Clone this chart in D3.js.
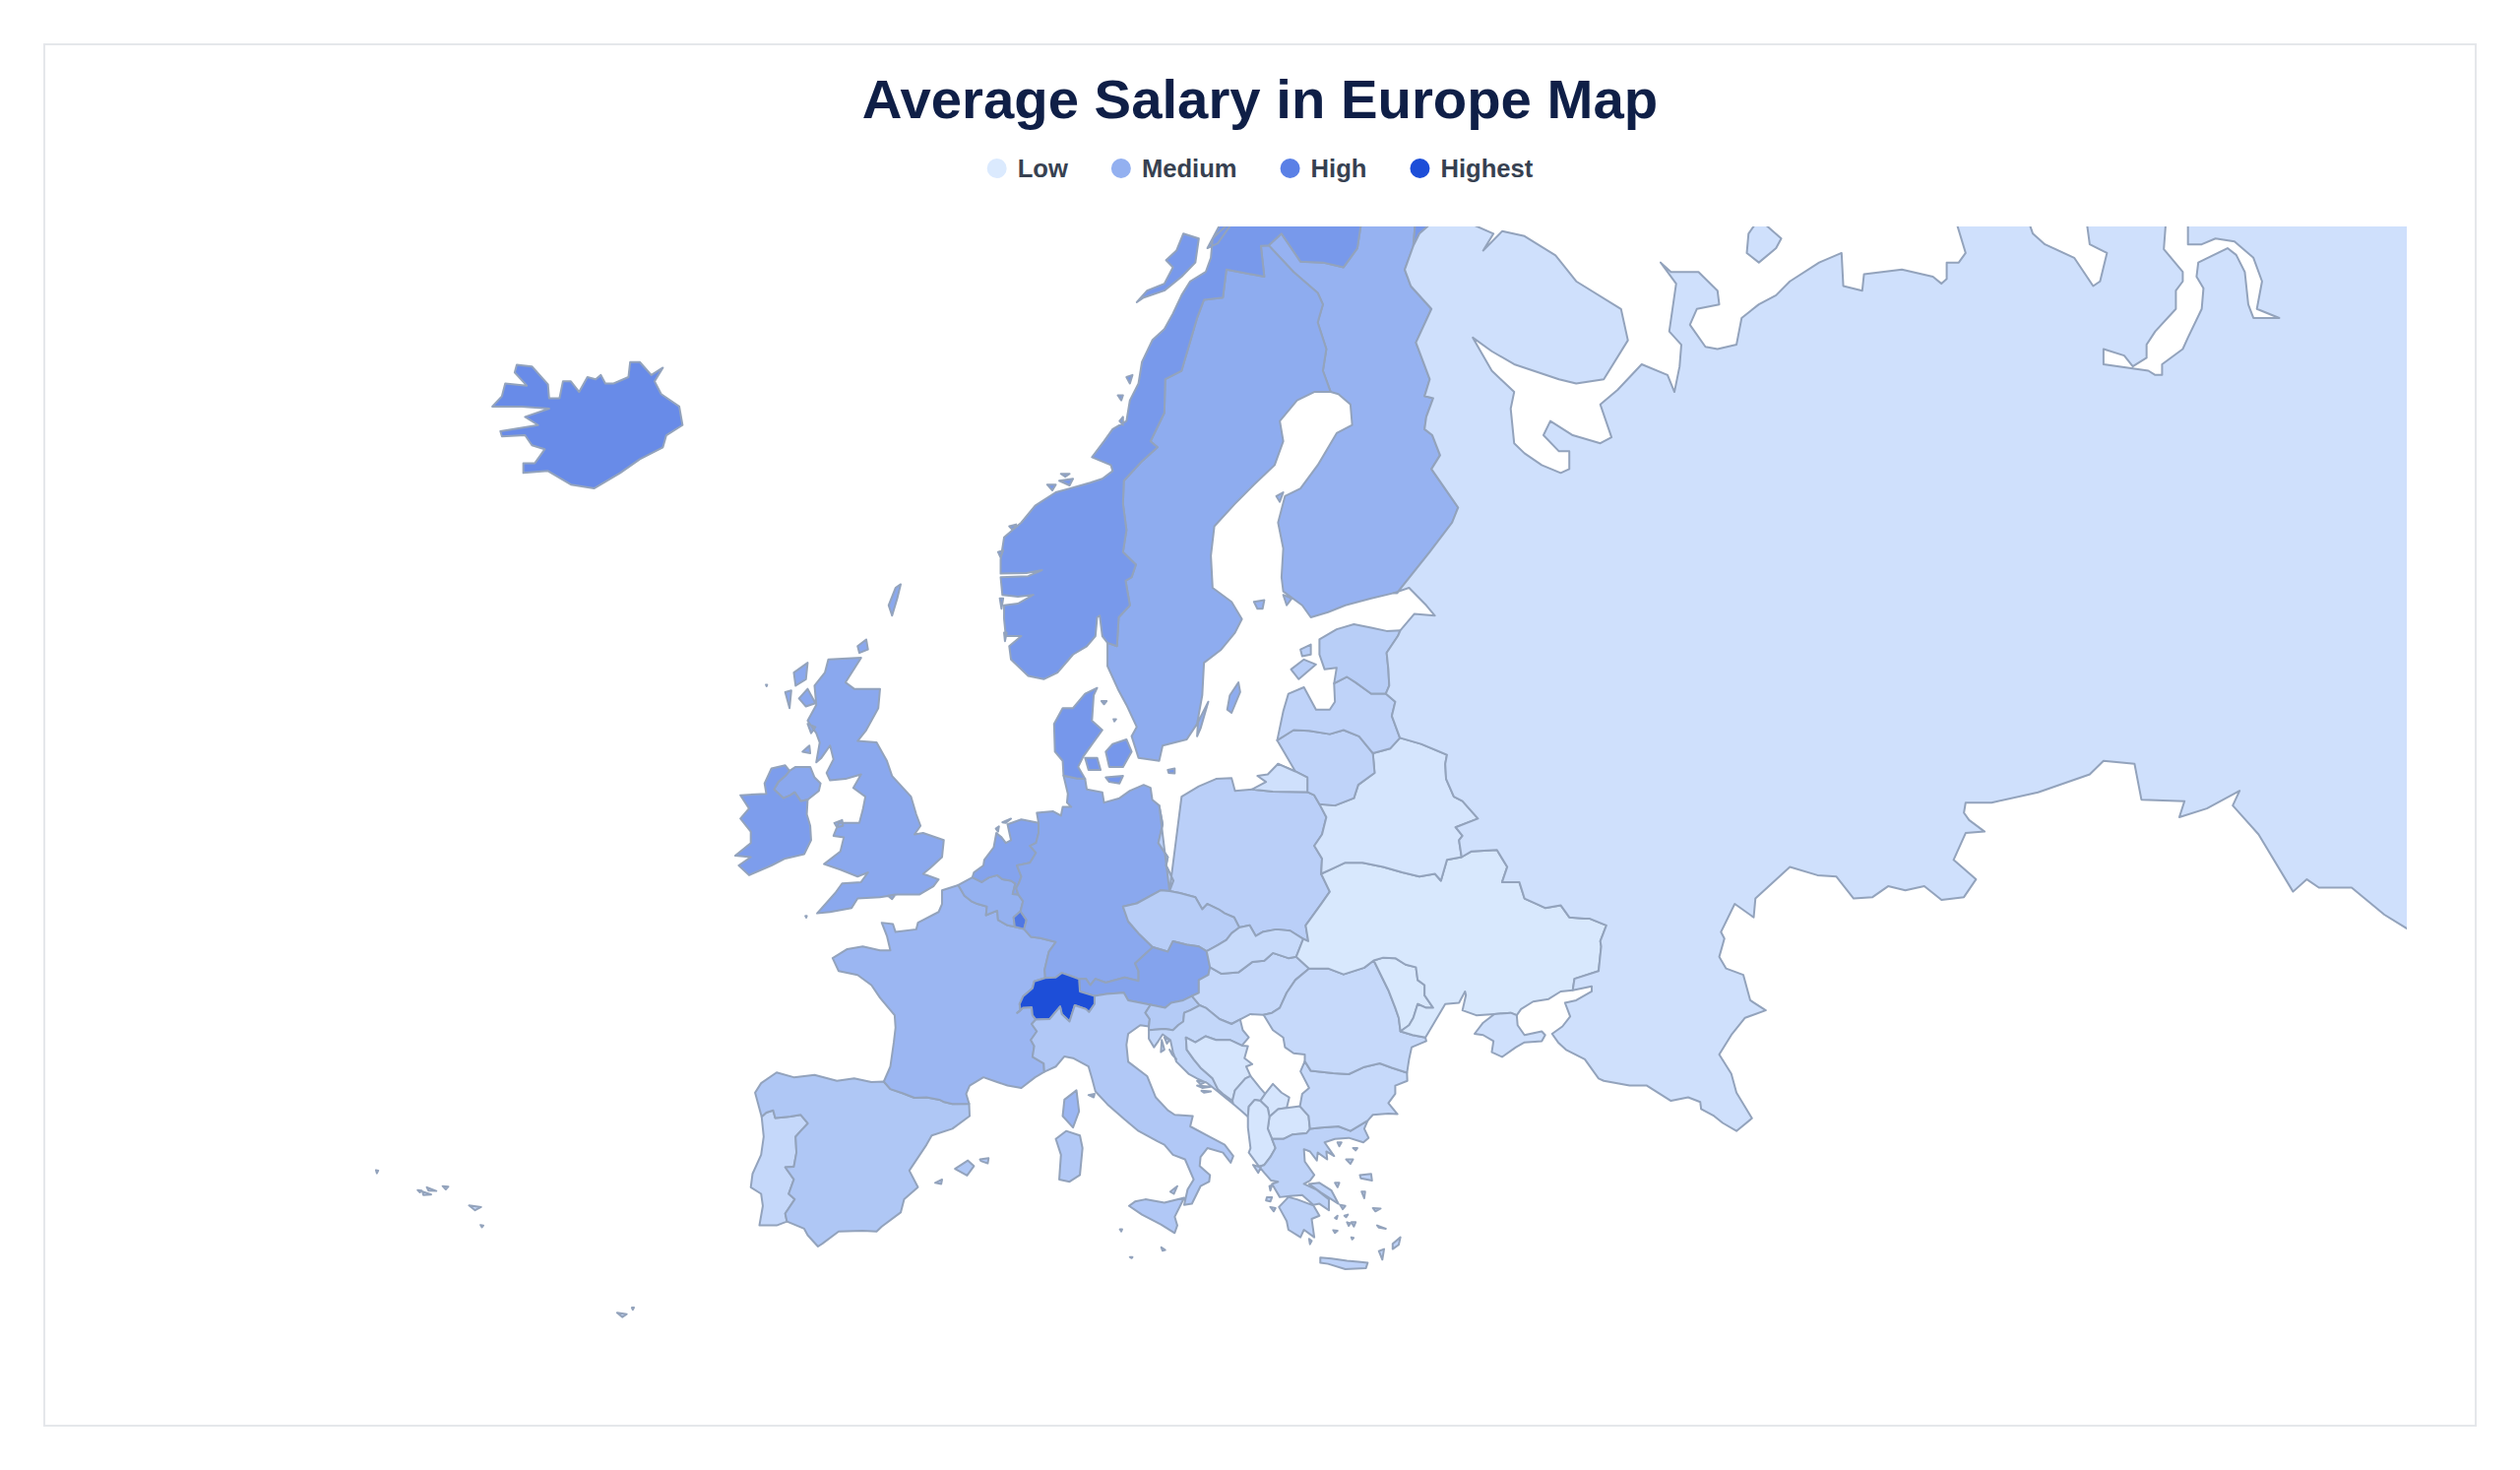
<!DOCTYPE html>
<html>
<head>
<meta charset="utf-8">
<title>Average Salary in Europe Map</title>
<script src="https://cdn.jsdelivr.net/npm/d3@7"></script>
<style>
  body { margin: 0; background: #fff; }
  text { font-family: "Liberation Sans", Arial, sans-serif; font-weight: 700; }
  .country { stroke: #93a3bc; stroke-width: 2; stroke-linejoin: round; }
</style>
</head>
<body>
<svg class="chart"></svg>
<script>
const width = 2560, height = 1493;

// Values
const legendLabels = ["Low", "Medium", "High", "Highest"];
const legendSalaries = [500, 2600, 4700, 6500];
const legendColors = ["#dbeafe", "#93b0f0", "#5a80e6", "#1d4ed8"];

const countries = ["Portugal","Spain","France","Belgium","Luxembourg","Netherlands","Germany","Denmark","Poland","Czechia","Austria","Switzerland","Italy","Slovenia","Hungary","Slovakia","Croatia","Bosnia and Herzegovina","Montenegro","Kosovo","North Macedonia","Albania","Greece","Bulgaria","Romania","Moldova","Ukraine","Belarus","Lithuania","Latvia","Estonia","Finland","Sweden","Norway","United Kingdom","Ireland","Iceland","Malta","Russia"];
const salaries = [1140,1780,2370,2570,5025,3150,2930,3680,1460,1550,3150,6500,1725,1640,1140,1080,1200,675,820,675,675,675,1375,1110,1110,590,590,675,1320,1320,1520,2510,2770,3595,2930,3410,4200,1500,850];

// Shared land borders, lon/lat
const ptEs = [[-8.87,41.87],[-8.6,42.05],[-8.2,42.14],[-8.08,41.81],[-7.6,41.85],[-7.2,41.88],[-6.6,41.95],[-6.19,41.58],[-6.6,41.25],[-6.9,41.0],[-6.85,40.3],[-7.0,39.67],[-7.5,39.65],[-7.0,39.1],[-7.3,38.45],[-6.95,38.2],[-7.5,37.55],[-7.4,37.18]];
const esFr = [[-1.78,43.37],[-1.4,43.05],[-0.7,42.88],[0.0,42.68],[0.7,42.7],[1.45,42.6],[1.73,42.5],[2.2,42.42],[3.17,42.43]];
const frBe = [[2.54,51.09],[2.9,50.7],[3.3,50.5],[3.65,50.4],[4.2,50.3],[4.15,49.98],[4.8,50.15],[4.85,49.8],[5.4,49.6],[5.82,49.55]];
const frLu = [[5.82,49.55],[6.36,49.46]];
const frDe = [[6.36,49.46],[6.75,49.17],[7.3,49.12],[8.2,48.97],[7.8,48.6],[7.55,47.9],[7.59,47.58]];
const frCh = [[7.59,47.58],[6.95,47.45],[6.85,47.18],[6.3,46.85],[6.1,46.55],[6.15,46.3],[5.96,46.2],[6.3,46.4],[6.8,46.42],[6.85,46.1],[7.04,45.93]];
const frIt = [[7.04,45.93],[6.8,45.75],[7.1,45.45],[6.75,45.1],[6.95,44.85],[6.85,44.4],[7.5,44.13],[7.53,43.78]];
const beNl = [[3.36,51.37],[3.9,51.2],[4.3,51.36],[4.8,51.45],[5.1,51.3],[5.6,51.25],[5.85,51.15],[5.7,50.76],[6.02,50.75]];
const beDe = [[6.02,50.75],[6.3,50.5],[6.15,50.13]];
const beLu = [[6.15,50.13],[5.75,49.9],[5.82,49.55]];
const luDe = [[6.36,49.46],[6.5,49.8],[6.15,50.13]];
const nlDe = [[7.2,53.3],[7.2,52.95],[7.05,52.6],[6.7,52.5],[7.05,52.25],[6.7,51.9],[5.95,51.8],[6.2,51.4],[6.05,51.15],[5.9,50.98],[6.02,50.75]];
const deCh = [[7.59,47.58],[8.2,47.6],[8.55,47.78],[9.0,47.68],[9.55,47.54]];
const deAt = [[9.55,47.54],[9.95,47.55],[10.2,47.3],[10.5,47.55],[11.1,47.4],[12.2,47.6],[13.0,47.47],[13.0,47.85],[12.8,48.15],[13.45,48.55],[13.83,48.77]];
const deCz = [[13.83,48.77],[13.0,49.3],[12.4,49.75],[12.1,50.3],[12.9,50.42],[14.3,50.9],[14.8,50.87]];
const dePl = [[14.8,50.87],[15.03,51.25],[14.6,51.8],[14.7,52.1],[14.15,52.6],[14.4,53.25],[14.2,53.9]];
const deDk = [[9.9,54.8],[9.4,54.82],[8.65,54.91]];
const plRu = [[19.6,54.45],[20.8,54.37],[22.8,54.36]];
const plLt = [[22.8,54.36],[23.2,54.25],[23.5,53.95]];
const plBy = [[23.5,53.95],[23.9,53.5],[23.65,52.9],[23.2,52.5],[23.65,52.05],[23.6,51.5]];
const plUa = [[23.6,51.5],[24.1,50.85],[23.6,50.4],[22.7,49.6],[22.85,49.0],[22.56,49.09]];
const plSk = [[22.56,49.09],[21.8,49.4],[21.0,49.45],[20.2,49.35],[19.8,49.2],[19.45,49.6],[18.85,49.52]];
const plCz = [[18.85,49.52],[18.55,49.9],[18.0,50.05],[17.65,50.2],[17.0,50.4],[16.7,50.2],[16.3,50.65],[15.4,50.8],[14.8,50.87]];
const czSk = [[18.85,49.52],[18.4,49.3],[18.1,49.05],[17.6,48.85],[16.95,48.62]];
const czAt = [[16.95,48.62],[16.5,48.8],[15.8,48.87],[15.0,49.0],[14.7,48.6],[13.83,48.77]];
const atSk = [[16.95,48.62],[17.15,48.0]];
const atHu = [[17.15,48.0],[17.05,47.7],[16.5,47.5],[16.5,47.0],[16.1,46.87]];
const atSi = [[16.1,46.87],[15.6,46.7],[14.9,46.6],[14.55,46.4],[13.7,46.52]];
const atIt = [[13.7,46.52],[12.4,46.7],[12.15,47.0],[11.15,46.95],[10.45,46.87]];
const atCh = [[10.45,46.87],[9.6,47.05],[9.55,47.54]];
const chIt = [[10.45,46.87],[10.45,46.55],[10.13,46.23],[9.95,46.35],[9.3,46.5],[9.0,45.85],[8.55,46.15],[8.45,46.45],[7.85,45.95],[7.04,45.93]];
const itSi = [[13.7,46.52],[13.4,46.2],[13.65,45.95],[13.6,45.65]];
const siHu = [[16.1,46.87],[16.55,46.5]];
const siHr = [[16.55,46.5],[16.0,46.3],[15.65,46.2],[15.6,45.85],[15.3,45.7],[15.0,45.5],[14.5,45.55],[13.6,45.5]];
const huSk = [[17.15,48.0],[17.8,47.75],[18.8,47.8],[19.6,48.2],[20.3,48.25],[20.8,48.55],[21.7,48.35],[22.15,48.4]];
const huUa = [[22.15,48.4],[22.9,47.95]];
const huRo = [[22.9,47.95],[22.1,47.5],[21.6,47.0],[21.2,46.4],[20.75,46.2],[20.26,46.12]];
const huRs = [[20.26,46.12],[19.5,46.15],[18.9,45.93]];
const huHr = [[18.9,45.93],[18.4,45.75],[17.7,45.95],[16.9,46.4],[16.55,46.5]];
const skUa = [[22.56,49.09],[22.15,48.4]];
const hrRs = [[18.9,45.93],[19.05,45.5],[19.4,45.2],[19.0,44.87]];
const hrBa = [[19.0,44.87],[18.3,45.1],[17.5,45.1],[16.9,45.25],[16.3,45.0],[15.75,45.2],[15.8,44.7],[16.2,44.3],[16.6,43.95],[17.3,43.5],[17.6,43.05],[17.9,42.85],[18.45,42.55]];
const baMe = [[18.45,42.55],[18.6,43.0],[19.2,43.5],[19.5,43.6]];
const baRs = [[19.5,43.6],[19.25,44.0],[19.6,44.1],[19.15,44.35],[19.35,44.85],[19.0,44.87]];
const meAl = [[19.35,41.87],[19.4,42.3],[19.75,42.6],[20.07,42.55]];
const meXk = [[20.07,42.55],[20.35,42.85]];
const meRs = [[20.35,42.85],[20.05,43.1],[19.5,43.6]];
const xkAl = [[20.07,42.55],[20.5,42.25],[20.6,41.87]];
const xkMk = [[20.6,41.87],[21.1,42.2],[21.6,42.25]];
const xkRs = [[21.6,42.25],[21.75,42.7],[21.3,42.9],[20.8,43.27],[20.35,42.85]];
const mkAl = [[20.6,41.87],[20.5,41.35],[20.75,40.9]];
const mkGr = [[20.75,40.9],[21.4,40.9],[21.95,41.1],[22.75,41.15],[22.95,41.34]];
const mkBg = [[22.95,41.34],[22.87,41.9],[22.37,42.32]];
const mkRs = [[22.37,42.32],[21.6,42.25]];
const alGr = [[20.75,40.9],[20.95,40.5],[20.65,40.1],[20.3,39.75],[20.0,39.68]];
const grBg = [[22.95,41.34],[23.6,41.4],[24.6,41.45],[25.3,41.25],[26.3,41.7]];
const grTr = [[26.3,41.7],[26.1,41.35],[26.35,40.95],[26.05,40.75]];
const bgTr = [[26.3,41.7],[26.6,41.95],[27.5,42.0],[28.03,41.98]];
const bgRo = [[28.58,43.74],[27.7,43.95],[27.0,44.13],[26.1,43.98],[25.2,43.68],[24.3,43.72],[23.0,43.82],[22.65,44.22]];
const bgRs = [[22.65,44.22],[22.4,43.8],[22.9,43.1],[22.5,42.85],[22.37,42.32]];
const roUaS = [[29.65,45.2],[28.9,45.3],[28.2,45.45]];
const roMd = [[28.2,45.45],[28.1,46.0],[27.9,46.4],[27.5,47.1],[26.65,48.26]];
const roUaN = [[26.65,48.26],[26.1,47.98],[24.9,47.72],[24.0,47.95],[22.9,47.95]];
const roRs = [[20.26,46.12],[20.8,45.5],[21.4,45.2],[21.5,44.8],[22.0,44.55],[22.65,44.5],[22.65,44.22]];
const mdUa = [[26.65,48.26],[27.2,48.37],[27.9,48.35],[28.5,48.1],[29.1,48.0],[29.2,47.5],[29.6,47.3],[29.6,46.9],[30.1,46.4],[29.7,46.4],[29.2,46.55],[28.95,46.0],[28.7,45.7],[28.2,45.45]];
const uaBy = [[23.6,51.5],[24.3,51.7],[25.0,51.9],[26.0,51.9],[27.2,51.75],[28.3,51.55],[29.3,51.4],[30.2,51.5],[30.55,51.25],[30.9,52.0],[31.75,52.1]];
const uaRu = [[31.75,52.1],[32.3,52.3],[33.8,52.35],[34.4,51.75],[34.1,51.2],[35.1,51.2],[35.4,50.6],[36.1,50.4],[36.6,50.25],[37.5,50.35],[38.0,49.9],[38.9,49.85],[39.2,49.85],[40.15,49.6],[39.8,49.0],[39.85,48.8],[39.7,47.85],[38.3,47.55],[38.2,47.1]];
const byLt = [[23.5,53.95],[24.4,53.9],[25.5,54.15],[25.75,54.6],[26.7,55.0],[26.6,55.65]];
const byLv = [[26.6,55.65],[27.6,55.8],[28.17,56.15]];
const byRu = [[28.17,56.15],[29.4,55.95],[30.9,55.6],[30.8,55.3],[30.85,54.8],[31.3,54.2],[31.8,54.05],[32.7,53.45],[31.4,53.15],[31.8,52.85],[31.6,52.7],[31.75,52.1]];
const ltLv = [[26.6,55.65],[25.8,56.2],[24.9,56.4],[24.1,56.27],[22.9,56.38],[22.0,56.4],[21.05,56.07]];
const ltRu = [[21.1,55.3],[22.1,55.05],[22.8,54.85],[22.8,54.36]];
const lvRu = [[28.17,56.15],[27.7,56.85],[27.9,57.3],[27.35,57.55]];
const lvEe = [[27.35,57.55],[26.5,57.55],[25.6,57.9],[25.1,58.07],[24.35,57.87]];
const eeRu = [[27.35,57.55],[27.55,57.8],[27.5,58.3],[27.4,58.8],[28.05,59.3],[28.2,59.47]];
const fiSe = [[24.15,65.8],[23.7,66.3],[23.9,66.8],[23.4,67.4],[23.7,67.8],[23.4,68.05],[22.0,68.5],[20.55,69.06]];
const fiNo = [[20.55,69.06],[21.3,69.3],[22.4,68.72],[23.7,68.7],[24.9,68.6],[25.7,69.0],[26.0,69.7],[27.3,70.09],[28.2,70.1],[29.1,69.7],[28.95,69.05]];
const fiRu = [[28.95,69.05],[28.45,68.55],[28.8,68.2],[30.0,67.7],[29.1,66.95],[29.9,66.1],[29.6,65.7],[30.1,65.65],[29.7,65.2],[29.6,64.9],[30.05,64.75],[30.5,64.25],[30.0,63.9],[31.55,62.9],[31.2,62.5],[29.9,61.7],[28.0,60.55],[27.8,60.55]];
const seNo = [[20.55,69.06],[20.1,69.05],[20.3,68.4],[18.1,68.55],[17.9,67.95],[16.8,67.9],[16.4,67.5],[15.5,66.3],[14.55,66.1],[14.5,65.3],[13.7,64.6],[14.1,64.45],[13.2,64.1],[12.15,63.6],[12.1,63.0],[12.3,62.3],[12.1,61.7],[12.85,61.35],[12.6,61.0],[12.25,60.9],[12.5,60.2],[11.85,59.85],[11.75,59.0],[11.2,59.1]];
const noRu = [[28.95,69.05],[29.3,69.3],[30.85,69.78]];
const ieGb = [[-7.25,55.07],[-7.5,54.9],[-7.9,54.7],[-8.15,54.45],[-7.6,54.15],[-7.2,54.25],[-6.95,54.35],[-6.6,54.05],[-6.2,54.1]];

const rev = a => a.slice().reverse();
const join = (...parts) => parts.flat();

// Outlines per country, built from the borders above and the coasts
const shapePortugal = [
  join(ptEs, [[-8.0,37.0],[-9.0,37.0],[-8.8,37.9],[-8.9,38.45],[-9.5,38.75],[-9.4,39.35],[-8.9,40.2],[-8.75,41.0]]),
  [[-31.25,39.52],[-31.12,39.5],[-31.2,39.38]], [[-28.83,38.62],[-28.6,38.6],[-28.7,38.52]], [[-28.55,38.55],[-28.05,38.42],[-28.5,38.4]], [[-28.3,38.75],[-27.75,38.58],[-28.2,38.6]],
  [[-27.38,38.8],[-27.05,38.78],[-27.2,38.65]], [[-25.85,37.92],[-25.15,37.85],[-25.5,37.7]], [[-25.18,37.02],[-25.02,37.0],[-25.1,36.92]],
  [[-17.26,32.85],[-16.7,32.78],[-16.95,32.64]], [[-16.4,33.1],[-16.28,33.1],[-16.35,33.0]]
];
const shapeSpain = [
  join(ptEs, [[-6.4,36.85],[-6.2,36.55],[-5.6,36.02],[-5.35,36.15],[-4.4,36.72],[-3.0,36.75],[-2.2,36.72],[-1.9,36.95],[-0.8,37.6],[-0.6,38.2],[0.2,38.75],[-0.3,39.5],[0.7,40.65],[1.0,41.05],[2.2,41.35],[3.2,41.9]], rev(esFr), [[-2.5,43.35],[-3.5,43.5],[-4.5,43.4],[-5.8,43.65],[-7.0,43.55],[-8.0,43.75],[-8.9,43.3],[-9.25,42.9]]),
  [[2.35,39.58],[3.1,39.95],[3.45,39.7],[3.05,39.28]], [[3.8,40.0],[4.3,40.05],[4.25,39.82],[3.85,39.93]], [[1.2,38.95],[1.6,39.1],[1.55,38.9]]
];
const shapeFrance = [
  join([[-1.4,44.0],[-1.2,45.0],[-1.1,45.6],[-1.15,46.1],[-2.0,46.8],[-2.5,47.3],[-3.3,47.7],[-4.4,47.85],[-4.75,48.35],[-3.9,48.7],[-3.0,48.8],[-2.0,48.65],[-1.4,48.65],[-1.6,49.2],[-1.9,49.7],[-1.25,49.65],[-1.1,49.35],[0.1,49.45],[0.2,49.7],[1.4,50.1],[1.6,50.4],[1.6,50.9]], frBe, frLu, frDe, frCh, frIt, [[7.0,43.55],[6.2,43.1],[5.4,43.2],[4.8,43.35],[4.0,43.55],[3.2,43.2],[3.0,42.85]], rev(esFr)),
  [[9.4,43.0],[9.55,42.1],[9.2,41.4],[8.6,41.9],[8.7,42.6]]
];
const shapeBelgium = [join(rev(frBe), beNl, beDe, beLu)];
const shapeLuxembourg = [join(beLu, frLu, luDe)];
const shapeNetherlands = [
  join(rev(beNl), [[3.45,51.55],[4.0,51.8],[4.05,52.0],[4.6,52.45],[4.75,52.95],[5.05,52.8],[5.3,52.6],[5.6,52.7],[5.4,53.25],[6.2,53.42]], nlDe),
  [[4.72,53.1],[4.9,53.18],[4.85,53.0]], [[5.1,53.32],[5.6,53.45],[5.3,53.3]]
];
const shapeGermany = [
  join(beDe, rev(luDe), frDe, deCh, deAt, deCz, dePl, [[13.8,54.1],[13.7,54.5],[13.3,54.6],[12.5,54.4],[11.9,54.15],[11.0,54.0],[10.9,54.35],[10.0,54.45]], deDk, [[8.9,54.3],[8.85,54.0],[9.1,53.85],[8.6,53.85],[8.5,53.55],[8.05,53.7],[7.1,53.65]], nlDe)
];
const shapeDenmark = [
  join(rev(deDk), [[9.5,55.2],[9.8,55.55],[10.25,55.9],[10.9,56.4],[10.3,56.7],[10.4,57.5],[10.6,57.73],[9.9,57.55],[9.2,57.1],[8.6,57.1],[8.1,56.6],[8.15,55.7],[8.6,55.4]]),
  [[9.9,55.5],[10.6,55.5],[10.8,55.1],[10.1,55.1]], [[11.1,55.7],[11.5,55.95],[12.3,56.1],[12.6,55.7],[12.1,55.2],[11.3,55.2]], [[11.1,54.85],[12.1,54.9],[11.9,54.65],[11.3,54.7]], [[14.7,55.1],[15.1,55.15],[15.1,54.98],[14.75,55.0]], [[10.85,57.32],[11.15,57.32],[11.0,57.22]], [[11.55,56.75],[11.7,56.75],[11.6,56.68]]
];
const shapePoland = [join(rev(dePl), [[15.5,54.2],[16.5,54.55],[17.5,54.8],[18.4,54.83],[18.6,54.4]], plRu, plLt, plBy, plUa, plSk, plCz)];
const shapeCzechia = [join(rev(plCz), czSk, czAt, deCz)];
const shapeAustria = [join(deAt, rev(czAt), atSk, atHu, atSi, atIt, atCh)];
const shapeSwitzerland = [join(deCh, rev(atCh), chIt, rev(frCh))];
const shapeItaly = [
  join(rev(frIt), rev(chIt), rev(atIt), itSi, [[13.1,45.7],[12.4,45.35],[12.3,44.9],[12.4,44.2],[13.5,43.6],[14.0,42.7],[14.7,42.15],[15.1,41.95],[16.15,41.9],[16.0,41.45],[17.0,41.05],[18.0,40.65],[18.5,40.15],[18.35,39.85],[17.9,40.3],[17.0,40.5],[16.6,40.1],[16.55,39.7],[17.15,39.3],[17.1,39.0],[16.6,38.8],[16.1,38.0],[15.65,37.95],[15.85,38.65],[16.2,39.1],[15.7,40.0],[15.0,40.2],[14.5,40.65],[14.1,40.8],[13.0,41.25],[12.2,41.75],[11.2,42.4],[10.5,42.95],[10.3,43.5],[10.1,44.0],[9.2,44.35],[8.7,44.42],[8.2,44.0]]),
  [[12.45,37.9],[12.8,38.1],[13.4,38.2],[14.5,38.05],[15.65,38.27],[15.1,37.4],[15.25,37.0],[15.1,36.65],[14.3,37.05],[13.2,37.5]],
  [[8.2,40.9],[8.8,41.25],[9.6,41.05],[9.75,40.5],[9.6,39.3],[9.0,39.0],[8.4,39.1],[8.5,40.2]],
  [[10.1,42.8],[10.45,42.85],[10.4,42.7]], [[14.85,38.55],[15.25,38.8],[15.05,38.45]], [[11.92,36.82],[12.05,36.82],[12.0,36.72]], [[12.5,35.52],[12.65,35.52],[12.6,35.47]]
];
const shapeSlovenia = [join(rev(itSi), rev(atSi), siHu, siHr)];
const shapeHungary = [join(rev(atHu), huSk, huUa, huRo, huRs, huHr, rev(siHu))];
const shapeSlovakia = [join(rev(atSk), rev(czSk), rev(plSk), skUa, rev(huSk))];
const shapeCroatia = [
  join(rev(siHr), rev(huHr), hrRs, hrBa, [[18.5,42.42],[18.05,42.68],[17.6,42.95],[17.0,43.3],[16.4,43.5],[15.9,43.7],[15.2,44.2],[15.0,44.6],[14.85,45.1],[14.4,45.33],[14.1,45.0],[13.9,44.8],[13.6,45.15]]),
  [[14.5,45.2],[14.8,45.1],[14.65,44.95]], [[14.35,45.1],[14.5,44.7],[14.3,44.6]], [[14.8,44.7],[15.2,44.3],[14.95,44.5]], [[16.4,43.4],[16.9,43.35],[16.6,43.25]], [[16.4,43.2],[17.2,43.15],[16.7,43.1]], [[16.65,42.98],[17.2,42.95],[16.8,42.9]]
];
const shapeBosnia = [join(hrBa, baMe, baRs)];
const shapeMontenegro = [join(rev(baMe), [[18.5,42.42],[19.0,42.1]], meAl, meXk, meRs)];
const shapeKosovo = [join(rev(meXk), xkAl, xkMk, xkRs)];
const shapeMacedonia = [join(rev(xkMk), mkAl, mkGr, mkBg, mkRs)];
const shapeAlbania = [join(meAl, xkAl, mkAl, alGr, [[19.4,40.3],[19.5,40.5],[19.35,41.4]])];
const shapeGreece = [
  join(rev(alGr), mkGr, grBg, grTr, [[25.2,40.95],[24.4,40.9],[23.8,40.75],[24.35,40.15],[23.9,40.35],[23.95,40.0],[23.4,40.3],[23.35,39.95],[22.95,40.35],[22.6,40.45],[22.65,39.9],[23.2,39.3],[22.95,39.05],[22.6,38.9],[23.3,38.65],[24.05,38.2],[24.05,37.7],[23.5,38.0],[23.15,37.95],[22.5,38.4],[21.8,38.35],[21.2,38.3],[20.75,38.9],[21.1,39.0],[20.7,39.05],[20.3,39.4]]),
  [[23.15,37.92],[22.2,38.2],[21.7,38.3],[21.15,37.85],[21.6,37.2],[21.7,36.8],[22.4,36.45],[22.6,36.8],[23.2,36.45],[23.05,37.3],[23.5,37.45]],
  [[23.55,35.5],[24.2,35.45],[25.1,35.35],[25.75,35.3],[26.3,35.25],[26.2,35.0],[25.0,34.95],[24.0,35.2],[23.55,35.25]],
  [[22.9,38.9],[23.5,38.95],[24.2,38.6],[24.6,38.0],[24.2,38.2],[23.6,38.5]],
  [[25.85,39.3],[26.5,39.35],[26.55,39.05],[25.9,39.15]], [[25.95,38.55],[26.15,38.55],[26.1,38.25]], [[26.6,37.8],[27.05,37.78],[26.75,37.65]], [[27.75,36.15],[28.2,36.45],[28.1,36.1],[27.75,35.9]],
  [[25.05,40.0],[25.45,40.0],[25.3,39.8]], [[24.55,40.75],[24.78,40.75],[24.65,40.58]], [[25.45,40.5],[25.7,40.5],[25.6,40.4]], [[24.4,38.95],[24.65,38.95],[24.55,38.75]],
  [[20.45,38.3],[20.75,38.3],[20.65,38.1],[20.4,38.15]], [[19.65,39.75],[20.1,39.65],[19.95,39.4]], [[20.65,37.85],[20.95,37.8],[20.85,37.65]], [[20.6,38.8],[20.75,38.85],[20.65,38.6]],
  [[24.7,37.95],[25.0,37.9],[24.85,37.75]], [[25.35,37.15],[25.6,37.15],[25.5,36.95]], [[25.1,37.15],[25.3,37.1],[25.2,36.98]], [[24.95,37.45],[25.15,37.5],[25.05,37.38]], [[24.4,37.35],[24.55,37.45],[24.5,37.3]], [[24.3,36.78],[24.55,36.75],[24.4,36.65]],
  [[25.35,36.45],[25.48,36.42],[25.4,36.35]], [[26.85,37.0],[27.35,36.85],[26.95,36.9]], [[26.95,35.8],[27.25,35.9],[27.15,35.4]], [[22.9,36.38],[23.05,36.28],[22.95,36.13]]
];
const shapeBulgaria = [join(grBg, bgTr, [[27.5,42.45],[27.9,42.85],[27.9,43.2],[28.6,43.4]], bgRo, bgRs, rev(mkBg))];
const shapeRomania = [join(rev(bgRo), [[28.7,44.3],[28.85,44.8],[29.7,45.05]], roUaS, roMd, roUaN, huRo, roRs)];
const shapeMoldova = [join(roMd, mdUa)];
const shapeUkraine = [
  join(rev(skUa), rev(plUa), uaBy, uaRu, [[37.5,47.05],[36.8,46.75],[35.9,46.65],[35.2,46.35],[34.95,46.1],[34.6,46.2],[33.65,46.15],[32.6,46.1],[31.8,46.3],[32.0,46.9],[31.95,47.05],[31.6,46.6],[30.8,46.55],[30.2,45.85]], roUaS, rev(mdUa), roUaN, rev(huUa))
];
const shapeBelarus = [join(rev(plBy), byLt, byLv, byRu, rev(uaBy))];
const shapeLithuania = [join(plLt, byLt, ltLv, rev(ltRu))];
const shapeLatvia = [join(rev(ltLv), byLv, lvRu, lvEe, [[24.4,57.3],[24.1,57.05],[23.3,57.05],[22.6,57.75],[21.7,57.55],[21.4,57.0]])];
const shapeEstonia = [
  join(rev(lvEe), eeRu, [[27.4,59.45],[26.5,59.55],[25.5,59.65],[24.5,59.5],[23.5,59.2],[23.5,58.75],[23.8,58.3],[24.5,58.35]]),
  [[21.85,58.3],[22.6,58.6],[23.3,58.45],[22.3,58.0]], [[22.4,58.9],[23.0,59.05],[23.0,58.75],[22.5,58.7]]
];
const shapeFinland = [
  join(fiSe, fiNo, fiRu, [[26.5,60.4],[25.0,60.2],[24.0,60.0],[23.0,59.85],[22.5,60.2],[21.4,60.6],[21.3,61.0],[21.4,61.8],[21.1,62.5],[21.5,63.2],[22.4,63.4],[23.4,64.0],[24.5,64.8],[25.4,65.0],[25.3,65.5],[24.6,65.75]]),
  [[19.7,60.3],[20.3,60.35],[20.2,60.1],[19.9,60.1]], [[21.4,60.5],[21.9,60.4],[21.6,60.2]], [[21.0,63.2],[21.4,63.3],[21.2,63.05]]
];
const shapeSweden = [
  join(fiSe, seNo, [[11.2,58.4],[11.8,57.7],[12.3,57.2],[12.9,56.5],[12.6,56.2],[13.0,55.5],[14.2,55.4],[14.4,55.9],[15.8,56.1],[16.4,56.6],[16.7,57.5],[16.8,58.5],[17.8,58.9],[18.6,59.4],[19.0,59.8],[18.4,60.3],[17.3,60.7],[17.2,61.6],[17.4,62.4],[18.6,63.0],[19.7,63.5],[20.9,64.0],[21.4,64.6],[21.2,65.1],[22.2,65.6],[23.2,65.8]]),
  [[18.15,57.05],[18.3,57.5],[18.8,57.9],[18.9,57.6],[18.4,56.95]], [[16.4,56.2],[16.45,56.65],[17.05,57.3],[16.6,56.45]]
];
const shapeNorway = [
  join(rev(seNo), fiNo, noRu, [[31.1,70.3],[28,71.1],[25,71.2],[20,70.3],[19,69.9],[18.2,69.5],[17.3,69.2],[17.2,68.8],[16.9,68.5],[16.0,68.3],[15.5,68.0],[15.0,67.6],[14.5,67.25],[13.8,67.0],[13.2,66.5],[13.0,66.0],[12.5,65.6],[12.3,65.1],[11.5,64.9],[11.0,64.6],[10.3,64.2],[11.4,64.0],[11.5,63.85],[10.9,63.65],[10.2,63.55],[9.8,63.5],[9.0,63.4],[8.2,63.3],[7.0,62.95],[6.2,62.5],[5.2,62.1],[5.0,61.5],[5.0,61.1],[6.5,61.12],[7.4,61.2],[6.6,61.03],[5.0,61.0],[5.1,60.5],[6.0,60.45],[6.9,60.5],[6.0,60.25],[5.2,60.2],[5.2,59.8],[5.3,59.3],[6.2,59.3],[5.5,59.0],[5.6,58.6],[6.6,58.1],[7.5,58.0],[8.3,58.2],[9.2,58.75],[10.0,59.0],[10.5,59.3],[10.6,59.85],[10.75,59.9],[10.9,59.3]]),
  [[12.9,67.85],[13.5,68.1],[14.5,68.25],[15.0,68.6],[14.6,68.75],[15.2,68.95],[15.6,69.3],[16.5,69.2],[16.3,68.7],[15.5,68.4],[14.5,68.1],[13.3,67.95]],
  [[17.0,69.0],[17.9,69.6],[18.3,69.45],[17.6,69.1]], [[11.9,65.1],[12.1,65.2],[12.1,65.0]], [[8.4,63.6],[9.2,63.65],[9.0,63.48]], [[8.5,63.78],[9.0,63.78],[8.75,63.7]], [[7.7,63.5],[8.2,63.5],[8.0,63.35]], [[11.8,65.72],[12.1,65.72],[12.0,65.6]], [[12.3,66.15],[12.65,66.2],[12.5,66.0]], [[5.2,59.4],[5.35,59.4],[5.25,59.15]], [[4.95,60.4],[5.15,60.4],[5.05,60.1]], [[4.85,61.7],[5.15,61.75],[5.0,61.55]], [[5.5,62.4],[5.9,62.45],[5.7,62.3]]
];
const shapeUK = [
  [[-5.0,58.6],[-3.1,58.65],[-4.0,57.9],[-3.5,57.7],[-2.0,57.7],[-2.1,57.1],[-2.8,56.4],[-3.3,56.05],[-2.2,56.0],[-1.6,55.4],[-1.3,54.9],[-0.2,54.2],[0.1,53.6],[0.35,53.2],[0.0,52.9],[0.5,52.95],[1.7,52.7],[1.6,52.1],[0.9,51.7],[0.5,51.5],[1.4,51.3],[1.1,51.05],[0.3,50.75],[-1.0,50.75],[-2.0,50.65],[-3.3,50.6],[-3.65,50.25],[-4.9,50.1],[-5.65,50.05],[-4.6,50.8],[-4.2,51.15],[-3.1,51.2],[-2.7,51.55],[-3.3,51.4],[-4.3,51.65],[-5.25,51.85],[-4.3,52.3],[-4.1,52.8],[-4.7,52.85],[-4.4,53.3],[-3.2,53.3],[-3.0,53.75],[-2.85,54.2],[-3.55,54.5],[-3.1,54.95],[-4.0,54.8],[-4.9,54.75],[-5.1,55.0],[-4.7,55.45],[-4.9,55.9],[-5.4,55.5],[-5.7,55.35],[-5.5,56.0],[-5.7,56.3],[-6.2,56.7],[-5.7,57.2],[-5.8,57.8],[-5.2,58.2]],
  join(ieGb, [[-5.55,54.4],[-5.45,54.65],[-5.8,54.85],[-6.05,55.2],[-6.9,55.2]]),
  [[-6.7,57.4],[-6.2,57.7],[-5.75,57.25],[-6.3,57.15]], [[-6.5,55.7],[-6.1,55.9],[-6.05,55.65]], [[-6.2,56.6],[-5.75,56.5],[-6.0,56.3]], [[-7.0,58.2],[-6.2,58.5],[-6.3,58.0],[-6.9,57.8]], [[-7.5,57.6],[-7.15,57.65],[-7.25,57.1]],
  [[-3.3,59.0],[-2.8,59.2],[-2.7,58.9],[-3.2,58.8]], [[-1.3,59.9],[-1.0,60.4],[-0.8,60.8],[-1.1,60.7],[-1.5,60.2]], [[-4.65,53.3],[-4.2,53.4],[-4.15,53.2],[-4.5,53.15]], [[-1.55,50.7],[-1.1,50.75],[-1.3,50.58]], [[-6.33,49.95],[-6.25,49.95],[-6.28,49.89]], [[-8.62,57.83],[-8.55,57.83],[-8.58,57.78]]
];
const shapeIreland = [
  join(ieGb, [[-6.25,53.6],[-6.05,53.2],[-6.0,52.7],[-6.4,52.2],[-7.5,52.05],[-8.3,51.8],[-9.6,51.45],[-10.2,51.8],[-9.5,52.1],[-10.4,52.15],[-9.5,52.6],[-9.5,53.0],[-10.1,53.45],[-9.6,53.8],[-10.1,54.25],[-8.6,54.3],[-8.7,54.65],[-8.3,55.15],[-7.5,55.25]])
];
const shapeIceland = [[[-23.08,66.44],[-22.2,66.4],[-21.27,65.98],[-21.2,65.65],[-20.6,65.65],[-20.4,66.05],[-19.94,66.05],[-19.46,65.8],[-18.98,66.15],[-18.5,66.1],[-18.2,66.2],[-17.94,66.0],[-17.46,66.0],[-16.6,66.15],[-16.5,66.5],[-15.94,66.5],[-15.27,66.2],[-14.6,66.37],[-15.08,66.05],[-14.7,65.75],[-13.65,65.45],[-13.46,65.0],[-14.4,64.75],[-14.6,64.45],[-15.94,64.15],[-17.08,63.8],[-18.6,63.4],[-19.94,63.5],[-21.27,63.85],[-22.7,63.8],[-22.7,64.05],[-22.03,64.05],[-21.46,64.4],[-22.2,64.5],[-22.6,64.75],[-23.94,64.72],[-24.03,64.85],[-21.84,65.0],[-22.6,65.2],[-21.2,65.4],[-22.8,65.45],[-24.5,65.45],[-23.94,65.7],[-23.75,66.0],[-22.5,65.95],[-23.2,66.26]]];
const shapeMalta = [[[14.32,35.98],[14.55,35.85],[14.4,35.82]]];
const kazakhBorder = [[87.3,49.2],[85.3,50.0],[83.4,51.0],[81.5,51.0],[80.8,51.3],[80.0,50.85],[78.0,52.9],[76.5,53.9],[76.9,54.4],[75.0,53.8],[73.4,53.5],[73.7,54.05],[71.2,54.1],[70.8,55.3],[69.0,55.4],[68.2,54.95],[65.2,54.35],[62.5,54.0],[61.0,54.0],[60.9,53.65],[61.2,53.4],[62.1,53.0],[61.0,52.95],[60.3,52.0],[61.6,51.3],[60.9,50.65],[59.6,50.55],[58.6,51.05],[57.5,50.9],[56.5,51.05],[55.6,50.65],[54.5,50.6],[53.5,51.4],[52.4,51.45],[50.8,51.75],[48.8,50.6],[48.7,49.9],[47.6,50.4],[46.8,49.35],[47.0,49.1],[46.7,48.4],[47.1,47.95],[48.1,47.7],[48.5,46.7],[49.4,46.3]];
const shapeRussia = [
  join([[32.3,70],[32.3,69.5],[33.6,69.3],[33.0,68.95],[34.1,69.35],[35.4,69.25],[37.2,68.85],[38.4,68.3],[41,67.7],[41.4,67.0],[40,66.1],[38.4,66.0],[37.4,66.1],[34.8,66.45],[33.5,66.75],[32.4,67.06],[33.5,66.3],[34.8,65.8],[34.6,65.4],[34.8,64.55],[35.4,64.3],[36.4,64.0],[37.5,63.8],[38,63.9],[38,64.35],[37.4,64.35],[36.5,64.75],[36.9,65.1],[38.2,64.75],[39.8,64.55],[40.45,64.7],[39.8,65.5],[40.8,65.85],[42.2,66.45],[43.7,66.2],[44.1,65.8],[44.4,66.4],[44.5,66.9],[43.8,67.2],[44.2,68.25],[43.3,68.7],[43.9,68.5],[45.5,68.5],[46.6,68.1],[46.7,67.8],[45.4,67.7],[45,67.35],[45.9,66.85],[46.6,66.8],[47.7,66.9],[48,67.5],[49,67.8],[50,68],[50.8,68.3],[52.5,68.7],[53.8,68.9],[53.9,68.2],[55,68.1],[55.1,68.45],[57.3,68.55],[59.1,68.4],[59.6,68.25],[59.9,68.35],[59.9,68.7],[60.6,68.7],[61,68.9],[60.4,69.6],[60.5,70],[64.6,69.6],[64.9,69.3],[65.6,69.08],[67.3,68.8],[68.4,68.2],[68.8,68.3],[69.2,68.9],[68.2,69.08],[68,69.6],[68,72],[72.6,72],[72.6,69.45],[72.5,68.98],[73.6,68.5],[73.6,68.3],[73.2,68.1],[73.2,67.7],[72,67.2],[71.5,66.9],[71.5,66.6],[70.7,66.4],[70.2,66.65],[69,66.8],[69,66.45],[69.9,66.4],[71.6,66.3],[72,66.2],[72.4,66.2],[72.4,66.45],[73.6,66.8],[73.9,67.06],[74.7,67.7],[74.8,68.15],[74.4,68.4],[74.5,68.7],[76.2,69],[76.7,68.86],[77.2,68.5],[77.4,67.8],[77.7,67.5],[79.2,67.5],[77.9,67.7],[78.2,68.3],[77.7,68.8],[76.6,69.14],[75.5,69.2],[74.7,69.08],[73.9,69.08],[73.9,72],[75,75],[95,75],[95,60],[92,50]], kazakhBorder, [[48.2,46.0],[47.4,45.3],[46.7,44.5],[47.4,43.7],[47.7,42.9],[48.6,41.8],[47.7,41.25],[46.9,41.6],[46.4,41.9],[45.65,42.2],[45.6,42.5],[44.9,42.7],[43.9,42.55],[42.5,43.2],[41.5,43.2],[40.0,43.4],[39.7,43.5],[38.9,44.3],[37.8,44.7],[37.35,45.0],[37.0,45.35],[37.6,45.65],[38.05,46.05],[37.75,46.6],[38.4,46.7],[39.3,47.05],[39.3,47.25]], rev(uaRu), rev(byRu), lvRu, eeRu, [[29.0,59.95],[30.2,59.9],[29.7,60.2],[28.7,60.7]], rev(fiRu), noRu, [[31.5,69.9]]),
  join(plRu, rev(ltRu), [[20.5,54.95],[19.9,54.9],[20.4,54.7]]),
  [[33.65,46.15],[34.6,46.2],[34.95,46.1],[35.0,45.7],[35.4,45.3],[36.4,45.45],[36.6,45.3],[36.4,45.05],[35.4,45.0],[34.9,44.8],[34.1,44.4],[33.5,44.6],[33.6,45.05],[33.0,45.3],[32.5,45.35],[33.0,45.8]],
  [[49,68.7],[48.3,68.9],[48.4,69.3],[49,69.6],[50.3,69.2],[50,69]]
];
const shapes = [shapePortugal,shapeSpain,shapeFrance,shapeBelgium,shapeLuxembourg,shapeNetherlands,shapeGermany,shapeDenmark,shapePoland,shapeCzechia,shapeAustria,shapeSwitzerland,shapeItaly,shapeSlovenia,shapeHungary,shapeSlovakia,shapeCroatia,shapeBosnia,shapeMontenegro,shapeKosovo,shapeMacedonia,shapeAlbania,shapeGreece,shapeBulgaria,shapeRomania,shapeMoldova,shapeUkraine,shapeBelarus,shapeLithuania,shapeLatvia,shapeEstonia,shapeFinland,shapeSweden,shapeNorway,shapeUK,shapeIreland,shapeIceland,shapeMalta,shapeRussia];

// Close a ring and wind it the way d3-geo wants
function closeRing(points) {
  const ring = points.filter((p, i) => i === 0 || p[0] !== points[i - 1][0] || p[1] !== points[i - 1][1]);
  const a = ring[0], b = ring[ring.length - 1];
  if (a[0] !== b[0] || a[1] !== b[1]) ring.push(a);
  if (d3.geoArea({ type: "Polygon", coordinates: [ring] }) > 2 * Math.PI) ring.reverse();
  return ring;
}

const features = countries.map((name, i) => ({
  type: "Feature",
  properties: { name, salary: salaries[i] },
  geometry: { type: "MultiPolygon", coordinates: shapes[i].map(r => [closeRing(r)]) }
}));

const color = d3.scaleLinear().domain(legendSalaries).range(legendColors).clamp(true);

const projection = d3.geoMercator()
  .scale(1003)
  .translate([929, 1942.7]);
const path = d3.geoPath(projection);

const svg = d3.select(".chart").attr("width", width).attr("height", height).style("display", "block");

// The map is cut off at the top and right of its box, with no outline along the cut
svg.append("clipPath").attr("id", "map-clip")
  .append("rect").attr("x", 0).attr("y", 230).attr("width", 2445).attr("height", height - 230);

// Card frame
svg.append("rect")
  .attr("x", 45).attr("y", 45).attr("width", 2470).attr("height", 1403)
  .attr("fill", "#fff").attr("stroke", "#e5e7eb").attr("stroke-width", 2);

svg.append("text")
  .attr("x", 1280).attr("y", 120)
  .attr("text-anchor", "middle")
  .attr("font-size", 56.3)
  .attr("fill", "#0f1f47")
  .text("Average Salary in Europe Map");

// Map
svg.append("g").attr("clip-path", "url(#map-clip)").selectAll("path")
  .data(features)
  .join("path")
  .attr("class", "country")
  .attr("d", path)
  .attr("fill", d => color(d.properties.salary));

// Legend, laid out from the measured labels
const legend = svg.append("g");
const items = legend.selectAll("g").data(legendLabels).join("g");
items.append("circle").attr("r", 10).attr("cy", 171).attr("fill", (d, i) => legendColors[i]);
items.append("text").attr("x", 21).attr("y", 180).attr("font-size", 25.6).attr("fill", "#374151").text(d => d);
let cursor = 0;
const offsets = [];
items.each(function() {
  offsets.push(cursor);
  cursor += 31 + d3.select(this).select("text").node().getComputedTextLength() + 44;
});
const legendStart = 1280 - (cursor - 44) / 2 + 10;
items.attr("transform", (d, i) => `translate(${legendStart + offsets[i]},0)`);
</script>
</body>
</html>
